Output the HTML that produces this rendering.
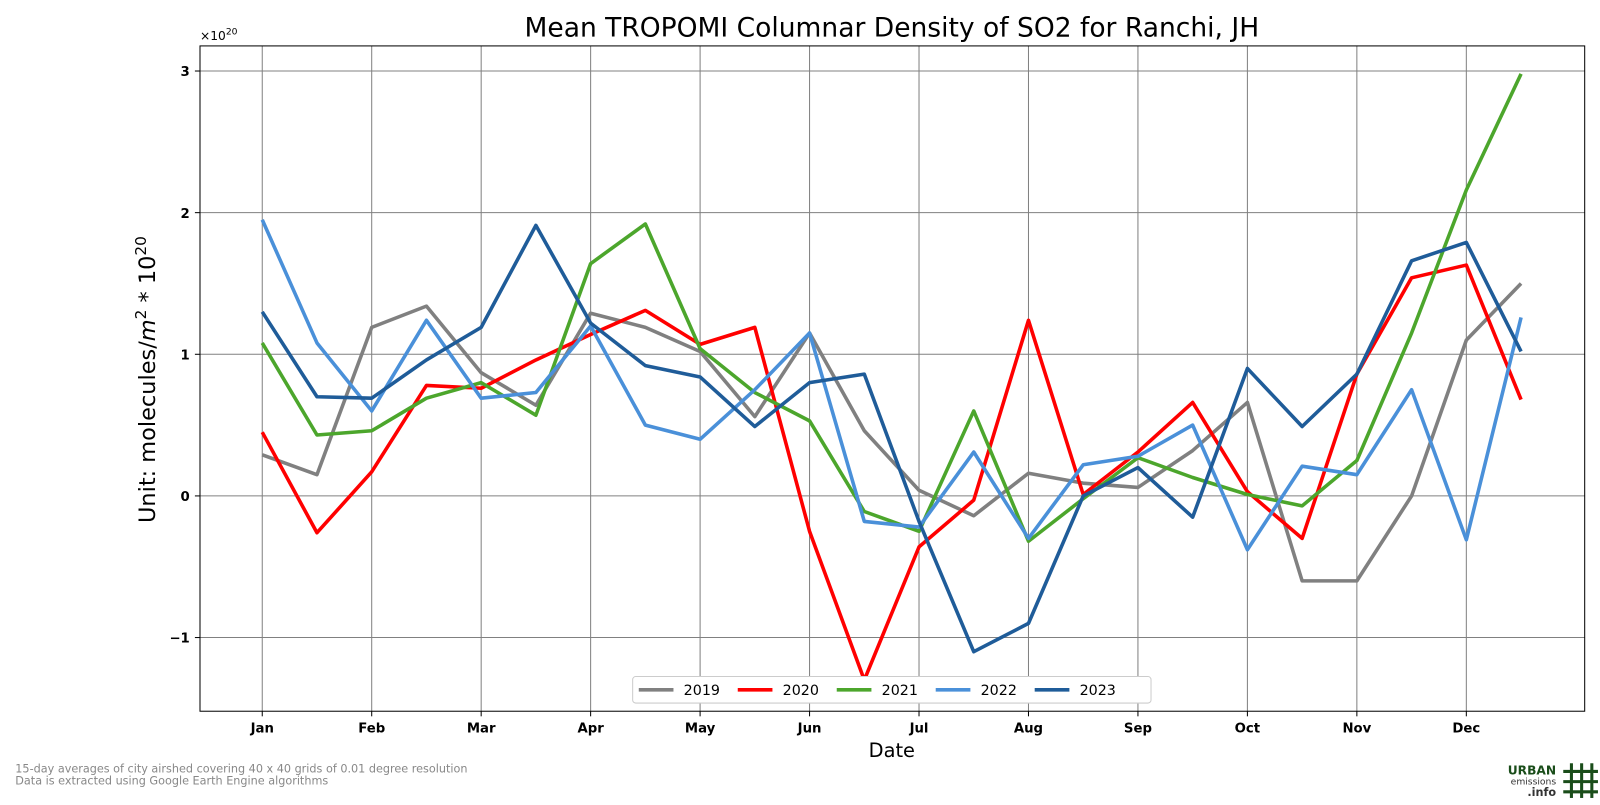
<!DOCTYPE html>
<html><head><meta charset="utf-8"><style>
body{margin:0;background:#fff;width:1600px;height:800px;overflow:hidden;font-family:"Liberation Sans","DejaVu Sans",sans-serif}
svg text{font-family:"DejaVu Sans","Liberation Sans",sans-serif}
</style></head><body>
<svg id="c" width="1600" height="800" viewBox="0 0 1568 784">
<text x="874" y="36" font-size="26" text-anchor="middle">Mean TROPOMI Columnar Density of SO2 for Ranchi, JH</text>
<text x="874" y="742" font-size="19" text-anchor="middle">Date</text>
<text transform="translate(152,372) rotate(-90)" font-size="22" text-anchor="middle">Unit: molecules/<tspan font-style="italic">m</tspan><tspan dy="-9" font-size="15">2</tspan><tspan dy="9"> * 10</tspan><tspan dy="-9" font-size="15">20</tspan></text>
<text x="196" y="39" font-size="12">×10<tspan dy="-5" font-size="9">20</tspan></text>
<g id="grid"></g><g id="lines"></g>
<rect x="196" y="45" width="1357" height="652" fill="none" stroke="#000" stroke-width="1"/>
<g>
<rect x="620" y="663" width="508" height="26" fill="#fff" stroke="#ccc" rx="3"/>
<g id="leg"></g></g>
<text x="15" y="757" font-size="11" fill="#888">15-day averages of city airshed covering 40 x 40 grids of 0.01 degree resolution</text>
<text x="15" y="769" font-size="11" fill="#888">Data is extracted using Google Earth Engine algorithms</text>
<g>
<text x="1525" y="759" font-size="12" font-weight="bold" fill="#1a4d1a" text-anchor="end">URBAN</text>
<text x="1525" y="769" font-size="9" fill="#333" text-anchor="end">emissions</text>
<text x="1525" y="780" font-size="11" font-weight="bold" fill="#333" text-anchor="end">.info</text>
<g stroke="#1a4d1a" stroke-width="3"><line x1="1540" y1="748" x2="1540" y2="782"/><line x1="1550" y1="748" x2="1550" y2="782"/><line x1="1560" y1="748" x2="1560" y2="782"/><line x1="1532" y1="756" x2="1566" y2="756"/><line x1="1532" y1="766" x2="1566" y2="766"/><line x1="1532" y1="776" x2="1566" y2="776"/></g>
</g>
</svg>
<script>
const months=["Jan","Feb","Mar","Apr","May","Jun","Jul","Aug","Sep","Oct","Nov","Dec"];
const yTicks=[-1,0,1,2,3];
const years=["2019","2020","2021","2022","2023"];
const colors=["#808080","#ff0000","#4ca62c","#4a90d9","#1f5c99"];
const s2019=[0.29,0.15,1.19,1.34,0.87,0.64,1.29,1.19,1.02,0.56,1.15,0.46,0.04,-0.14,0.16,0.09,0.06,0.32,0.66,-0.60,-0.60,0.0,1.10,1.50];
const s2020=[0.45,-0.26,0.17,0.78,0.76,0.96,1.14,1.31,1.07,1.19,-0.25,-1.30,-0.36,-0.03,1.24,0.01,0.31,0.66,0.03,-0.30,0.86,1.54,1.63,0.68];
const s2021=[1.08,0.43,0.46,0.69,0.80,0.57,1.64,1.92,1.04,0.73,0.53,-0.11,-0.25,0.60,-0.32,-0.02,0.27,0.13,0.01,-0.07,0.25,1.15,2.16,2.98];
const s2022=[1.95,1.08,0.60,1.24,0.69,0.73,1.20,0.50,0.40,0.75,1.15,-0.18,-0.22,0.31,-0.30,0.22,0.28,0.50,-0.38,0.21,0.15,0.75,-0.31,1.26];
const s2023=[1.30,0.70,0.69,0.96,1.19,1.91,1.22,0.92,0.84,0.49,0.80,0.86,-0.18,-1.10,-0.90,0.0,0.20,-0.15,0.90,0.49,0.86,1.66,1.79,1.02];
const series=[s2019,s2020,s2021,s2022,s2023];
const NS="http://www.w3.org/2000/svg";
const X=i=>257+i*(1437-257)/22;
const Y=v=>486-v*138.8;
function mk(t,a,p){const e=document.createElementNS(NS,t);for(const k in a)e.setAttribute(k,a[k]);p.appendChild(e);return e;}
const g=document.getElementById("grid");
months.forEach((m,k)=>{const x=X(k*2);
 const l=mk("line",{x1:x,x2:x,y1:45,y2:697,stroke:"#808080","stroke-width":1},g);
 
 
 mk("line",{x1:x,x2:x,y1:697,y2:702,stroke:"#000"},g);
 const t=mk("text",{x:x,y:718,"font-size":13,"font-weight":"bold","text-anchor":"middle"},g);t.textContent=m;
 
 
});
yTicks.forEach(v=>{const y=Y(v);
 const l=mk("line",{x1:196,x2:1553,y1:y,y2:y,stroke:"#808080","stroke-width":1},g);
 
 
 mk("line",{x1:191,x2:196,y1:y,y2:y,stroke:"#000"},g);
 const t=mk("text",{x:186,y:y+5,"font-size":13,"font-weight":"bold","text-anchor":"end"},g);t.textContent=v<0?"\u2212"+(-v):v;
 
 
});
const L=document.getElementById("lines"),lg=document.getElementById("leg");
series.forEach((s,j)=>{
 const p=mk("polyline",{points:s.map((v,i)=>X(i)+","+Y(v)).join(" "),fill:"none",stroke:colors[j],"stroke-width":3.5,"stroke-linejoin":"round"},L);
 
 
 const lx=626+j*97;
 const ll=mk("line",{x1:lx,x2:lx+34,y1:676,y2:676,stroke:colors[j],"stroke-width":3.5},lg);
 
 
 const t=mk("text",{x:lx+44,y:681,"font-size":14},lg);t.textContent=years[j];
 
 
});
</script>
</body></html>
